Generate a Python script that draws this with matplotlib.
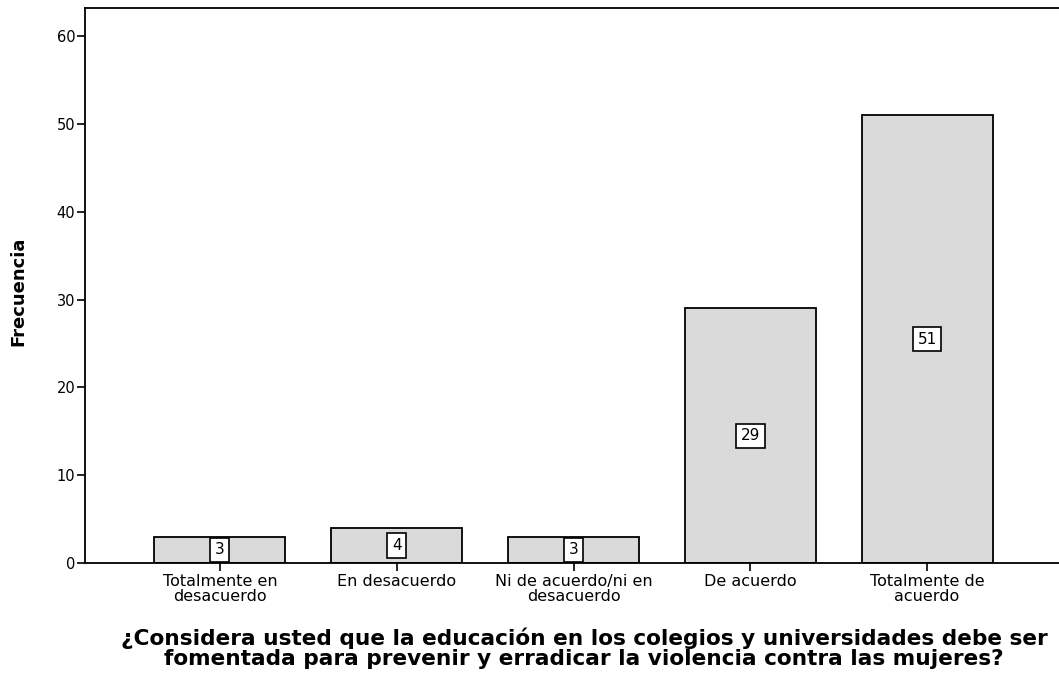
import matplotlib
matplotlib.use("Agg")
import matplotlib.pyplot as plt

categories = ["Totalmente en\ndesacuerdo", "En desacuerdo", "Ni de acuerdo/ni en\ndesacuerdo",
              "De acuerdo", "Totalmente de\nacuerdo"]
values = [3, 4, 3, 29, 51]
yticks = [0, 10, 20, 30, 40, 50, 60]

plt.rcParams['font.family'] = ['DejaVu Sans']

fig = plt.figure(figsize=(10.59, 6.74), dpi=100)
ax = fig.add_axes([85/1059, 111/674, 977/1059, 555/674])

x = list(range(len(categories)))
ax.bar(x, values, width=0.74, color='#dadada', edgecolor='black', linewidth=1.3, zorder=2)
for xi, v in zip(x, values):
    ax.text(xi, v/2, str(v), ha='center', va='center', fontsize=11,
            bbox=dict(boxstyle='square,pad=0.3', facecolor='white', edgecolor='black', linewidth=1.2),
            zorder=3)

ax.set_xlim(-0.763, 4.763)
ax.set_ylim(0, 63.2)
ax.set_yticks(yticks)
ax.set_xticks(x)
ax.set_xticklabels(categories, fontsize=11.5, linespacing=0.95)
ax.tick_params(axis='both', direction='out', length=6, width=1.2)
ax.tick_params(axis='y', labelsize=10.5, pad=1)
ax.tick_params(axis='x', pad=2)
for s in ax.spines.values():
    s.set_linewidth(1.3)

ax.set_ylabel("Frecuencia", fontsize=13, fontweight='bold')
ax.yaxis.set_label_coords(-0.0594, 0.49)
fig.text(584/1059, 1 - 648/674,
         "¿Considera usted que la educación en los colegios y universidades debe ser\n"
         "fomentada para prevenir y erradicar la violencia contra las mujeres?",
         ha='center', va='center', fontsize=15.6, fontweight='bold', linespacing=1.02)

fig.savefig("out.png", dpi=100)
